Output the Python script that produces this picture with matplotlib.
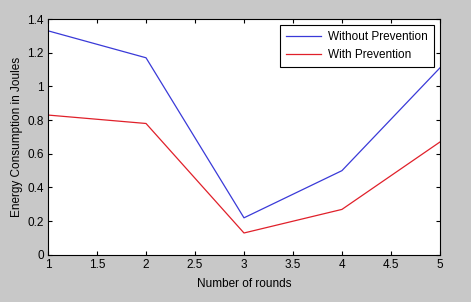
import matplotlib
matplotlib.use("Agg")
import matplotlib.pyplot as plt

plt.rcParams['font.family'] = ['Liberation Sans', 'DejaVu Sans']

rounds = [1, 2, 3, 4, 5]
without_prevention = [1.33, 1.17, 0.22, 0.50, 1.11]
with_prevention = [0.83, 0.78, 0.13, 0.27, 0.67]

fig = plt.figure(figsize=(4.71, 3.02), dpi=100, facecolor='#c8c8c8')
ax = fig.add_axes([0.102, 0.156, 0.832, 0.781])

ax.plot(rounds, without_prevention, color='#3a3ad8', linewidth=0.9, label='Without Prevention')
ax.plot(rounds, with_prevention, color='#e0202a', linewidth=0.9, label='With Prevention')

ax.set_xlim(1, 5)
ax.set_ylim(0, 1.4)
ax.set_xticks([1, 1.5, 2, 2.5, 3, 3.5, 4, 4.5, 5])
ax.set_xticklabels(['1', '1.5', '2', '2.5', '3', '3.5', '4', '4.5', '5'])
ax.set_yticks([0, 0.2, 0.4, 0.6, 0.8, 1, 1.2, 1.4])
ax.set_yticklabels(['0', '0.2', '0.4', '0.6', '0.8', '1', '1.2', '1.4'])
ax.tick_params(direction='in', top=True, right=True, labelsize=8.5, length=3, pad=3)
for s in ax.spines.values():
    s.set_linewidth(0.8)

ax.set_xlabel('Number of rounds', fontsize=8.5, labelpad=5)
ax.set_ylabel('Energy Consumption in Joules', fontsize=8.5, labelpad=3)

leg = ax.legend(loc='upper right', fontsize=8.5, fancybox=False, framealpha=1,
                edgecolor='black', borderaxespad=0.5, handlelength=3.0,
                labelspacing=0.55, borderpad=0.5, handletextpad=0.6)
leg.get_frame().set_linewidth(0.8)

fig.savefig('out.png', dpi=100, facecolor=fig.get_facecolor())
